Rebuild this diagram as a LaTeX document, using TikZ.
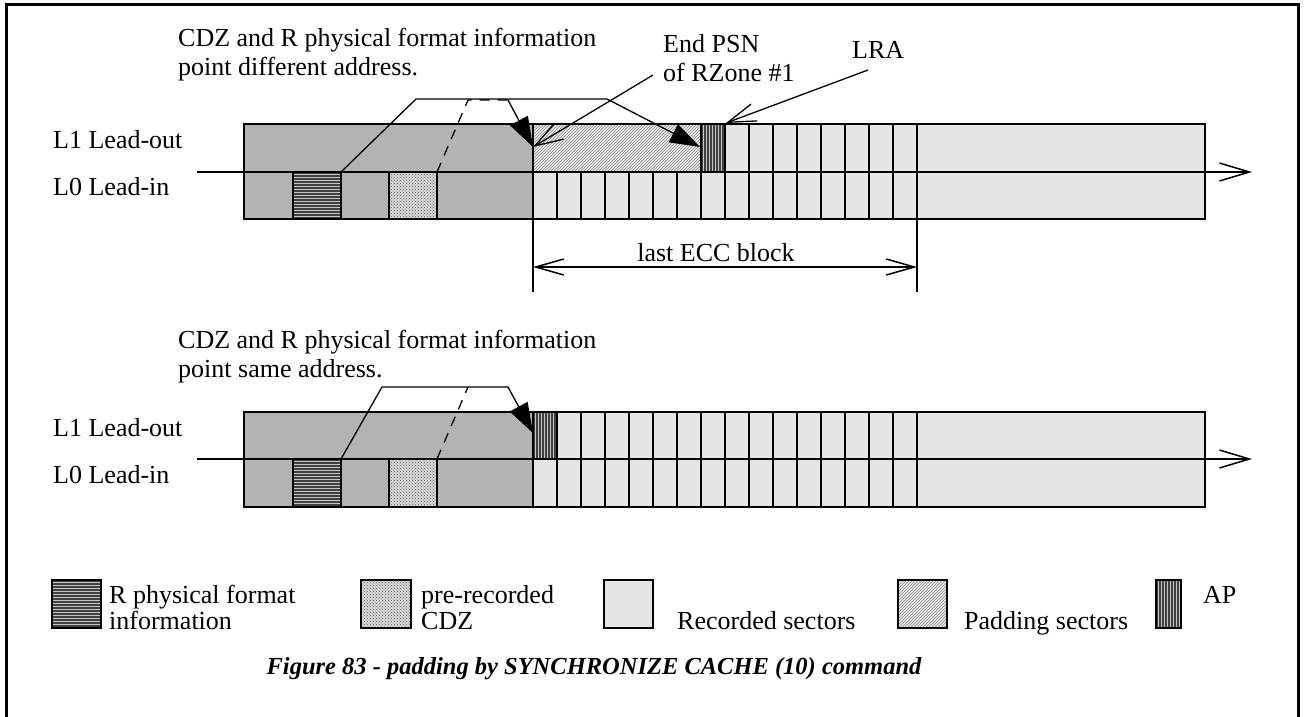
\documentclass[tikz,border=0pt]{standalone}
\usepackage{fontspec}
\setmainfont{Liberation Serif}
\usetikzlibrary{arrows.meta,patterns}
\definecolor{darkg}{HTML}{B3B3B3}
\definecolor{lightg}{HTML}{E5E5E5}
\definecolor{padbg}{HTML}{E8E8E8}
\tikzset{
  box/.style={draw=black,line width=2pt},
  cellline/.style={line width=2pt},
  conn/.style={line width=1.3pt},
  lbl/.style={anchor=base west,inner sep=0pt,font=\fontsize{26}{29}\selectfont},
  bigtip/.style={-{Triangle[length=30pt,width=20pt]}},
  opentip/.style={-{Straight Barb[length=28pt,width=18pt,line width=1.3pt]}},
  dashline/.style={conn,dash pattern=on 10pt off 8pt},
}
% horizontal-line hatch: x1 y1 x2 y2
\newcommand\hhatchbox[4]{%
  \fill[gray!45] (#1,#2) rectangle (#3,#4);
  \begin{scope}
    \clip (#1,#2) rectangle (#3,#4);
    \foreach \k in {0,...,17} \draw[line width=1.1pt,black!75] (#1,{#2+1+3*\k}) -- (#3,{#2+1+3*\k});
  \end{scope}
  \draw[box] (#1,#2) rectangle (#3,#4);}
% vertical-line hatch
\newcommand\vhatchbox[4]{%
  \fill[gray!45] (#1,#2) rectangle (#3,#4);
  \begin{scope}
    \clip (#1,#2) rectangle (#3,#4);
    \foreach \k in {0,...,17} \draw[line width=1.1pt,black!75] ({#1+1+3*\k},#2) -- ({#1+1+3*\k},#4);
  \end{scope}
  \draw[box] (#1,#2) rectangle (#3,#4);}
% dotted CDZ
\newcommand\dotbox[4]{%
  \fill[gray!30] (#1,#2) rectangle (#3,#4);
  \fill[pattern=crosshatch dots,pattern color=black!65] (#1,#2) rectangle (#3,#4);
  \draw[box] (#1,#2) rectangle (#3,#4);}
% padding
\newcommand\padfill[4]{%
  \fill[padbg] (#1,#2) rectangle (#3,#4);
  \fill[pattern=north east lines,pattern color=black!45] (#1,#2) rectangle (#3,#4);}
\begin{document}
\begin{tikzpicture}[x=1pt,y=-1pt]
\useasboundingbox (0,0) rectangle (1304,716);
% frame
\draw[line width=3pt] (6,720) -- (6,4) -- (1298,4) -- (1298,720);

% ================= diagram 1 =================
\fill[darkg] (244,124) rectangle (533,219);
\fill[lightg] (533,124) rectangle (1205,219);
\padfill{533}{124}{701}{172}
\vhatchbox{701}{124}{725}{172}
\hhatchbox{293}{172}{341}{219}
\dotbox{389}{172}{437}{219}
\foreach \x in {557,581,...,893} \draw[cellline] (\x,172) -- (\x,219);
\foreach \x in {749,773,...,893} \draw[cellline] (\x,124) -- (\x,172);
\draw[box] (244,124) rectangle (1205,219);
\draw[cellline] (533,124) -- (533,292);
\draw[cellline] (917,124) -- (917,292);
\coordinate (ax1s) at (197,172);
\coordinate (ax1e) at (1252,172);
\draw[line width=2pt,-{Straight Barb[length=30pt,width=18pt,line width=1.5pt]}] (ax1s) -- (ax1e);
% ECC
\coordinate (eccL) at (533,267);
\coordinate (eccR) at (917,267);
\draw[line width=2pt,{Straight Barb[length=28pt,width=16pt,line width=1.5pt]}-{Straight Barb[length=28pt,width=16pt,line width=1.5pt]}] (eccL) -- (eccR);
\node[lbl,anchor=base] (ecc) at (716,261) {last ECC block};
% labels
\node[lbl] (t1a) at (178,46) {CDZ and R physical format information};
\node[lbl] (t1b) at (178,75) {point different address.};
\node[lbl] (psna) at (663,52) {End PSN};
\node[lbl] (psnb) at (663,81) {of RZone \#1};
\node[lbl] (lra) at (852,58) {LRA};
\node[lbl] (l1a) at (53,148) {L1 Lead-out};
\node[lbl] (l0a) at (53,195) {L0 Lead-in};
% connectors
\coordinate (h1) at (341,172);
\coordinate (s1a) at (416,99);
\coordinate (s1b) at (607,99);
\coordinate (ap1) at (700,147);
\draw[conn,bigtip] (h1) -- (s1a) -- (s1b) -- (ap1);
\coordinate (c1) at (437,172);
\coordinate (d1a) at (468,100);
\coordinate (d1b) at (508,100);
\coordinate (e1) at (533,147);
\draw[dashline] (c1) -- (d1a) -- (d1b);
\draw[conn,bigtip] (d1b) -- (e1);
\coordinate (psn0) at (653,75);
\draw[conn,opentip] (psn0) -- (e1);
\coordinate (lra0) at (868,70);
\coordinate (lra1) at (726,123);
\draw[conn,opentip] (lra0) -- (lra1);

% ================= diagram 2 =================
\fill[darkg] (244,412) rectangle (533,507);
\fill[lightg] (533,412) rectangle (1205,507);
\vhatchbox{533}{412}{557}{459}
\hhatchbox{293}{459}{341}{507}
\dotbox{389}{459}{437}{507}
\foreach \x in {557,581,...,893} \draw[cellline] (\x,459) -- (\x,507);
\foreach \x in {581,605,...,893} \draw[cellline] (\x,412) -- (\x,459);
\draw[cellline] (917,412) -- (917,507);
\draw[cellline] (533,412) -- (533,507);
\draw[box] (244,412) rectangle (1205,507);
\coordinate (ax2s) at (197,459);
\coordinate (ax2e) at (1252,459);
\draw[line width=2pt,-{Straight Barb[length=30pt,width=18pt,line width=1.5pt]}] (ax2s) -- (ax2e);
\node[lbl] (t2a) at (178,348) {CDZ and R physical format information};
\node[lbl] (t2b) at (178,377) {point same address.};
\node[lbl] (l1b) at (53,436) {L1 Lead-out};
\node[lbl] (l0b) at (53,483) {L0 Lead-in};
\coordinate (h2) at (341,459);
\coordinate (s2a) at (382,387);
\coordinate (s2b) at (508,387);
\coordinate (e2) at (533,433);
\draw[conn,bigtip] (h2) -- (s2a) -- (s2b) -- (e2);
\coordinate (c2) at (437,459);
\coordinate (d2a) at (468,387);
\draw[dashline] (c2) -- (d2a);

% ================= legend =================
\hhatchbox{52}{580}{101}{628}
\node[lbl] (lg1a) at (109,603) {R physical format};
\node[lbl] (lg1b) at (109,629) {information};
\dotbox{361}{580}{411}{628}
\node[lbl] (lg2a) at (421,603) {pre-recorded};
\node[lbl] (lg2b) at (421,629) {CDZ};
\draw[box,fill=lightg] (604,580) rectangle (653,628);
\node[lbl] (lg3) at (677,629) {Recorded sectors};
\padfill{898}{580}{947}{628}
\draw[box] (898,580) rectangle (947,628);
\node[lbl] (lg4) at (964,629) {Padding sectors};
\vhatchbox{1156}{580}{1181}{628}
\node[lbl] (lg5) at (1203,603) {AP};
\node[lbl,anchor=base,font=\fontsize{24.5}{29}\selectfont\bfseries\itshape] (cap) at (594,674) {Figure 83 - padding by SYNCHRONIZE CACHE (10) command};
\end{tikzpicture}
\end{document}
